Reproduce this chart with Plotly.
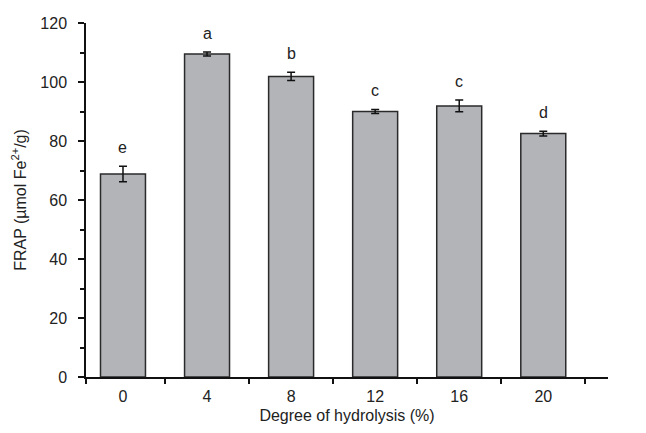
import plotly.graph_objects as go

categories = ["0", "4", "8", "12", "16", "20"]
frap = [68.8, 109.5, 101.9, 90.0, 91.9, 82.5]
errors = [2.6, 0.7, 1.4, 0.7, 2.0, 0.8]
letters = ["e", "a", "b", "c", "c", "d"]

x_pos = list(range(len(categories)))
x_lo, x_hi = -0.44, 5.77
FONT = "Liberation Sans, Arial, sans-serif"

fig = go.Figure()
fig.add_trace(go.Bar(
    x=x_pos, y=frap, width=0.535,
    marker=dict(color="#b3b4b8", line=dict(color="#2a2a2a", width=1.5)),
    error_y=dict(type="data", array=errors, visible=True, color="#111111",
                 thickness=1.5, width=4),
    showlegend=False,
))

for xi, v, e, lab in zip(x_pos, frap, errors, letters):
    fig.add_annotation(x=xi, y=v + e, text=lab, showarrow=False,
                       yanchor="bottom", yshift=8,
                       font=dict(family=FONT, size=16, color="#222"))

minor_x = [x_lo] + [i + 0.5 for i in x_pos]

fig.update_layout(
    width=646, height=433,
    margin=dict(l=86, r=38, t=23, b=56),
    plot_bgcolor="white", paper_bgcolor="white",
    font=dict(family=FONT, size=16, color="#222"),
    xaxis=dict(
        range=[x_lo, x_hi], tickvals=x_pos, ticktext=categories,
        ticks="", showline=True, linecolor="#111", linewidth=1.5,
        ticklabelstandoff=4,
        showgrid=False, zeroline=False,
        minor=dict(ticks="outside", tickmode="array", tickvals=minor_x,
                   ticklen=5, tickcolor="#111", tickwidth=1.5, showgrid=False),
        title=dict(text="Degree of hydrolysis (%)", font=dict(size=16), standoff=6),
        tickfont=dict(size=16),
    ),
    yaxis=dict(
        range=[0, 120], tickvals=[0, 20, 40, 60, 80, 100, 120],
        ticks="outside", ticklen=6, tickcolor="#111", tickwidth=1.5,
        ticklabelstandoff=8,
        showline=True, linecolor="#111", linewidth=1.5,
        showgrid=False, zeroline=False,
        minor=dict(ticks="outside", tick0=10, dtick=20, ticklen=4, tickcolor="#111",
                   tickwidth=1.5, showgrid=False),
        title=dict(text="FRAP (µmol Fe<sup>2+</sup>/g)", font=dict(size=16), standoff=10),
        tickfont=dict(size=16),
    ),
)

fig.write_html("out.html")
